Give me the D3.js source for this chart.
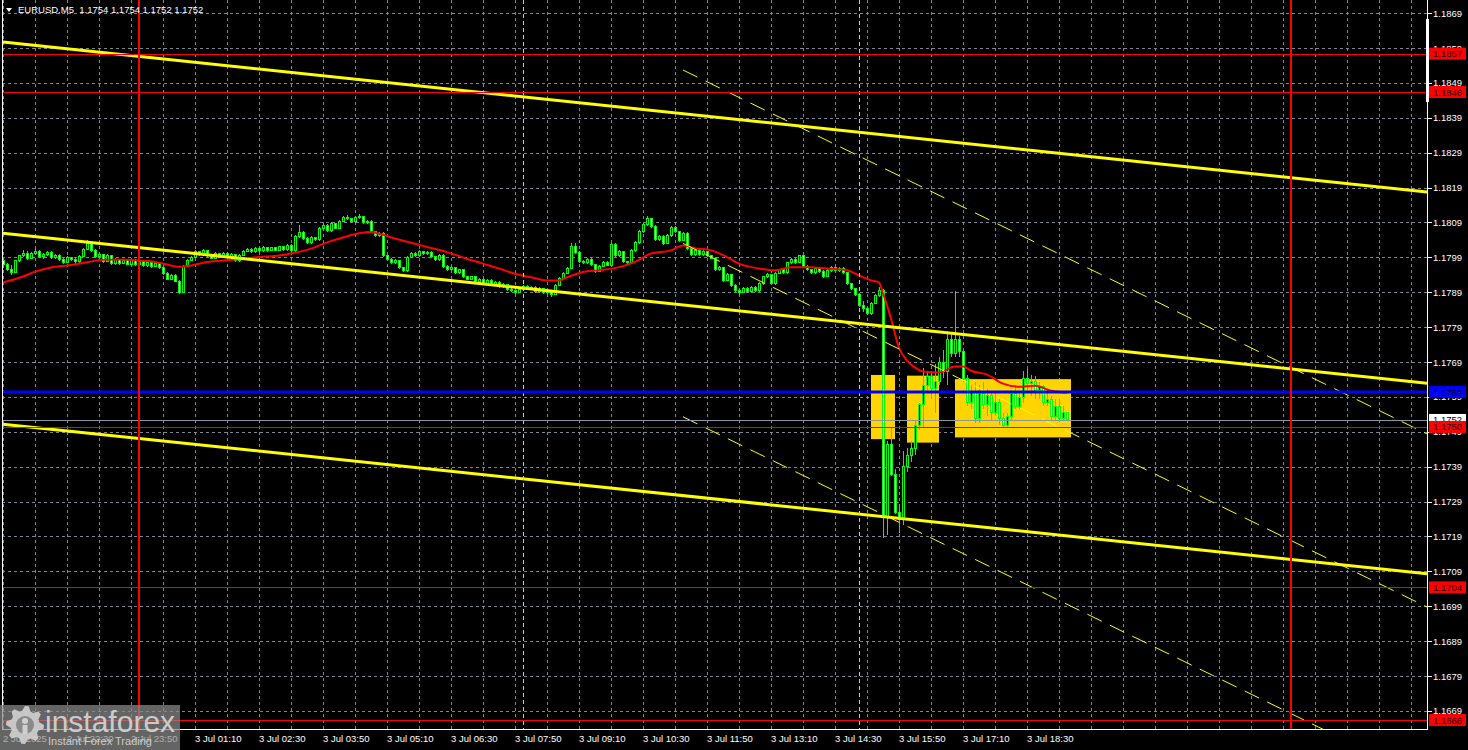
<!DOCTYPE html>
<html><head><meta charset="utf-8">
<script src="https://cdn.jsdelivr.net/npm/d3@7"></script>
<style>
html,body{margin:0;padding:0;background:#000;overflow:hidden}
svg{display:block}
text{font-family:"Liberation Sans",Arial,sans-serif}
</style>
</head><body>
<svg id="chart" width="1468" height="750"></svg>
<script>
// ---------------- DATA ----------------
const chartTitle = "EURUSD,M5  1.1754 1.1754 1.1752 1.1752";

const opens = [
1.17976,1.17965,1.1795,1.17943,1.17976,1.1799,1.17998,1.17983,1.17997,1.18003,
1.17988,1.17993,1.18,1.17986,1.17992,1.17979,1.17972,1.17985,1.1798,1.17973,
1.17989,1.1801,1.18026,1.18006,1.17988,1.17994,1.17975,1.1799,1.17968,1.17979,
1.17969,1.17976,1.17967,1.17978,1.17965,1.17975,1.17962,1.1797,1.1796,1.17968,
1.17956,1.1794,1.17923,1.17935,1.17918,1.17886,1.1796,1.17978,1.17986,1.18002,
1.17993,1.18005,1.1799,1.17984,1.17996,1.17988,1.17998,1.17986,1.17994,1.17976,
1.17992,1.18004,1.1801,1.18002,1.18012,1.18005,1.18014,1.18006,1.18013,1.18007,
1.18016,1.18008,1.1802,1.18005,1.18045,1.18058,1.1804,1.18028,1.18042,1.18036,
1.18068,1.18078,1.18062,1.18082,1.1807,1.1809,1.181,1.18096,1.18088,1.18099,
1.18103,1.18086,1.1809,1.1806,1.18048,1.18055,1.1799,1.1798,1.1797,1.17976,
1.17956,1.17948,1.17986,1.17998,1.1799,1.18002,1.17996,1.18,1.17988,1.1798,
1.17992,1.1796,1.1795,1.17956,1.17942,1.1795,1.1793,1.17924,1.1793,1.17916,
1.17924,1.1791,1.1792,1.17908,1.17914,1.17902,1.17908,1.17895,1.1789,1.17886,
1.17894,1.17903,1.17896,1.179,1.17888,1.17896,1.17884,1.1789,1.1788,1.17906,
1.17925,1.1794,1.17955,1.18018,1.18,1.17975,1.1797,1.1798,1.17965,1.17946,
1.1796,1.17972,1.17964,1.18024,1.1799,1.18002,1.17974,1.1797,1.18005,1.18028,
1.1806,1.1808,1.18096,1.18075,1.18036,1.18046,1.18026,1.18048,1.18072,1.1806,
1.18035,1.18055,1.18012,1.17993,1.18006,1.17994,1.18002,1.1799,1.17984,1.1795,
1.17956,1.1792,1.17936,1.17906,1.17892,1.17886,1.17898,1.17888,1.179,1.1789,
1.1791,1.1793,1.17936,1.1791,1.1794,1.1795,1.17942,1.1797,1.1798,1.17972,
1.1799,1.1796,1.1795,1.17942,1.17954,1.17946,1.17932,1.17948,1.17956,1.17948,
1.17954,1.17942,1.1791,1.17896,1.1788,1.17848,1.1784,1.17825,1.17855,1.17876,
1.17892,1.1724,1.17449,1.17365,1.17255,1.17235,1.17388,1.17417,1.17437,1.17505,
1.17565,1.1762,1.17645,1.1761,1.1763,1.17685,1.1766,1.1775,1.1771,1.1775,
1.17715,1.1764,1.1757,1.176,1.17525,1.17595,1.17565,1.1759,1.1754,1.1757,
1.17525,1.17505,1.1753,1.17595,1.1756,1.17585,1.1764,1.17625,1.1763,1.17605,
1.17615,1.1757,1.1758,1.1753,1.1756,1.17525,1.1754];

const highs = [
1.17982,1.1797,1.17963,1.17979,1.17994,1.18008,1.18003,1.18002,1.1801,1.18006,
1.17998,1.18005,1.18004,1.17996,1.17995,1.17983,1.17989,1.17988,1.17984,1.17993,
1.18014,1.18035,1.1803,1.1801,1.17999,1.17997,1.17995,1.17993,1.17983,1.17982,
1.1798,1.17979,1.17982,1.17981,1.17979,1.17978,1.17974,1.17973,1.17972,1.1797,
1.17959,1.17943,1.17939,1.17938,1.17922,1.17964,1.17982,1.1799,1.18006,1.18005,
1.18009,1.18008,1.17993,1.18,1.17999,1.18002,1.18001,1.17998,1.17997,1.17996,
1.18008,1.18014,1.18013,1.18016,1.18015,1.18018,1.18017,1.18017,1.18016,1.1802,
1.18019,1.18024,1.18023,1.1805,1.1808,1.18061,1.18043,1.18046,1.18045,1.18072,
1.18085,1.18081,1.18086,1.18085,1.18094,1.18106,1.18108,1.18099,1.18104,1.18109,
1.18106,1.18094,1.18093,1.18063,1.18059,1.18058,1.17993,1.17983,1.1798,1.17979,
1.17959,1.1799,1.18002,1.18001,1.18006,1.18005,1.18004,1.18003,1.17991,1.17996,
1.17995,1.17963,1.1796,1.17959,1.17954,1.17953,1.17933,1.17934,1.17933,1.17928,
1.17927,1.17924,1.17923,1.17918,1.17917,1.17912,1.17911,1.17898,1.17893,1.17898,
1.17907,1.17906,1.17904,1.17903,1.179,1.17899,1.17894,1.17893,1.1791,1.17929,
1.17944,1.17959,1.18026,1.18028,1.18003,1.17978,1.17984,1.17983,1.17968,1.17964,
1.17976,1.17975,1.18028,1.18027,1.18006,1.18005,1.17977,1.18009,1.18032,1.18064,
1.18084,1.18106,1.18099,1.18078,1.1805,1.18049,1.18052,1.18076,1.18075,1.18063,
1.18059,1.18058,1.18015,1.1801,1.18009,1.18006,1.18005,1.17993,1.17987,1.1796,
1.17959,1.1794,1.17939,1.17909,1.17895,1.17902,1.17901,1.17904,1.17903,1.17914,
1.17934,1.1794,1.17939,1.17944,1.17954,1.17953,1.17974,1.17984,1.17983,1.17994,
1.17993,1.17963,1.17953,1.17958,1.17957,1.17949,1.17952,1.1796,1.17959,1.17958,
1.17957,1.17945,1.17913,1.17899,1.17883,1.1786,1.17843,1.17859,1.1788,1.17902,
1.17895,1.1746,1.175,1.1738,1.1728,1.1743,1.1744,1.1746,1.1752,1.1757,
1.1767,1.1766,1.1766,1.1768,1.177,1.1772,1.17775,1.1777,1.1789,1.1776,
1.1772,1.1765,1.1762,1.1763,1.1762,1.1763,1.1761,1.176,1.176,1.1758,
1.1754,1.1754,1.17605,1.1762,1.176,1.1766,1.17665,1.1765,1.17645,1.1763,
1.1762,1.176,1.1759,1.1758,1.1758,1.1756,1.1754];

const lows = [
1.17955,1.17946,1.17935,1.1794,1.17972,1.17987,1.17978,1.1798,1.17994,1.17984,
1.17982,1.1799,1.1798,1.17982,1.17975,1.17968,1.17969,1.17976,1.17968,1.1797,
1.17986,1.18007,1.18002,1.17984,1.17985,1.1797,1.17972,1.17964,1.17965,1.17965,
1.17966,1.17963,1.17964,1.17961,1.17962,1.17958,1.17959,1.17956,1.17957,1.17952,
1.17936,1.1792,1.1792,1.17914,1.17882,1.17883,1.17957,1.17975,1.17983,1.17989,
1.1799,1.17986,1.1798,1.17981,1.17984,1.17985,1.17982,1.17983,1.17972,1.17973,
1.17989,1.18001,1.17998,1.17999,1.18001,1.18002,1.18002,1.18003,1.18003,1.18004,
1.18004,1.18005,1.18001,1.18002,1.18042,1.18036,1.18024,1.18025,1.18032,1.18033,
1.18065,1.18058,1.18059,1.18066,1.18067,1.18087,1.18092,1.18084,1.18085,1.18096,
1.18082,1.18083,1.18056,1.18044,1.18045,1.17986,1.17976,1.17966,1.17967,1.17952,
1.17944,1.17945,1.17983,1.17986,1.17987,1.17992,1.17993,1.17984,1.17976,1.17977,
1.17956,1.17946,1.17947,1.17938,1.17939,1.17926,1.1792,1.17921,1.17912,1.17913,
1.17906,1.17907,1.17904,1.17905,1.17898,1.17899,1.17891,1.17886,1.17882,1.17883,
1.17891,1.17892,1.17893,1.17884,1.17885,1.1788,1.17881,1.17872,1.17877,1.17903,
1.17922,1.17937,1.17952,1.17996,1.17971,1.17966,1.17967,1.17961,1.17942,1.17943,
1.17957,1.1796,1.17961,1.17986,1.17987,1.1797,1.17964,1.17967,1.18002,1.18025,
1.18057,1.18077,1.18071,1.18032,1.18033,1.18022,1.18023,1.18045,1.18056,1.18031,
1.18032,1.18008,1.17989,1.1799,1.1799,1.17991,1.17986,1.1798,1.17946,1.17947,
1.17916,1.17917,1.17902,1.17888,1.17882,1.17883,1.17884,1.17885,1.17886,1.17887,
1.17907,1.17927,1.17906,1.17907,1.17937,1.17938,1.17939,1.17967,1.17968,1.17969,
1.17956,1.17946,1.17938,1.17939,1.17942,1.17928,1.17929,1.17945,1.17944,1.17945,
1.17938,1.17906,1.17892,1.17876,1.17844,1.1783,1.1782,1.17822,1.17852,1.17873,
1.17183,1.1719,1.1736,1.1725,1.17195,1.1722,1.1737,1.174,1.1742,1.1749,
1.175,1.176,1.1758,1.1754,1.1762,1.1764,1.1762,1.177,1.177,1.177,
1.1763,1.1756,1.1755,1.1751,1.1751,1.1755,1.1753,1.1752,1.1753,1.17505,
1.17498,1.175,1.1752,1.1755,1.1755,1.1757,1.176,1.1759,1.1758,1.1758,
1.1756,1.1756,1.1752,1.1752,1.17515,1.1752,1.1752];

const closes = [
1.17965,1.1795,1.17943,1.17976,1.1799,1.17998,1.17983,1.17997,1.18003,1.17988,
1.17993,1.18,1.17986,1.17992,1.17979,1.17972,1.17985,1.1798,1.17973,1.17989,
1.1801,1.18026,1.18006,1.17988,1.17994,1.17975,1.1799,1.17968,1.17979,1.17969,
1.17976,1.17967,1.17978,1.17965,1.17975,1.17962,1.1797,1.1796,1.17968,1.17956,
1.1794,1.17923,1.17935,1.17918,1.17886,1.1796,1.17978,1.17986,1.18002,1.17993,
1.18005,1.1799,1.17984,1.17996,1.17988,1.17998,1.17986,1.17994,1.17976,1.17992,
1.18004,1.1801,1.18002,1.18012,1.18005,1.18014,1.18006,1.18013,1.18007,1.18016,
1.18008,1.1802,1.18005,1.18045,1.18058,1.1804,1.18028,1.18042,1.18036,1.18068,
1.18078,1.18062,1.18082,1.1807,1.1809,1.181,1.18096,1.18088,1.18099,1.18103,
1.18086,1.1809,1.1806,1.18048,1.18055,1.1799,1.1798,1.1797,1.17976,1.17956,
1.17948,1.17986,1.17998,1.1799,1.18002,1.17996,1.18,1.17988,1.1798,1.17992,
1.1796,1.1795,1.17956,1.17942,1.1795,1.1793,1.17924,1.1793,1.17916,1.17924,
1.1791,1.1792,1.17908,1.17914,1.17902,1.17908,1.17895,1.1789,1.17886,1.17894,
1.17903,1.17896,1.179,1.17888,1.17896,1.17884,1.1789,1.1788,1.17906,1.17925,
1.1794,1.17955,1.18018,1.18,1.17975,1.1797,1.1798,1.17965,1.17946,1.1796,
1.17972,1.17964,1.18024,1.1799,1.18002,1.17974,1.1797,1.18005,1.18028,1.1806,
1.1808,1.18096,1.18075,1.18036,1.18046,1.18026,1.18048,1.18072,1.1806,1.18035,
1.18055,1.18012,1.17993,1.18006,1.17994,1.18002,1.1799,1.17984,1.1795,1.17956,
1.1792,1.17936,1.17906,1.17892,1.17886,1.17898,1.17888,1.179,1.1789,1.1791,
1.1793,1.17936,1.1791,1.1794,1.1795,1.17942,1.1797,1.1798,1.17972,1.1799,
1.1796,1.1795,1.17942,1.17954,1.17946,1.17932,1.17948,1.17956,1.17948,1.17954,
1.17942,1.1791,1.17896,1.1788,1.17848,1.1784,1.17825,1.17855,1.17876,1.17892,
1.1724,1.17449,1.17365,1.17255,1.17235,1.17388,1.17417,1.17437,1.17505,1.17565,
1.1762,1.17645,1.1761,1.1763,1.17685,1.1766,1.1775,1.1771,1.1775,1.17715,
1.1764,1.1757,1.176,1.17525,1.17595,1.17565,1.1759,1.1754,1.1757,1.17525,
1.17505,1.1753,1.17595,1.1756,1.17585,1.1764,1.17625,1.1763,1.17605,1.17615,
1.1757,1.1758,1.1753,1.1756,1.17525,1.1754,1.1752];

// moving average read at sample bars: [bar index, price]
const maPoints = [
[0,1.17914],[5,1.17931],[8,1.17945],[12,1.17957],[17,1.17964],[21,1.17972],[25,1.17979],
[30,1.1798],[34,1.17977],[38,1.17973],[42,1.17963],[44,1.17959],[47,1.17963],[51,1.17973],
[55,1.17977],[60,1.17982],[64,1.17987],[68,1.1799],[72,1.17997],[77,1.18011],[81,1.18029],
[85,1.18043],[89,1.18055],[92,1.18059],[94,1.18054],[98,1.1804],[103,1.18025],[107,1.18013],
[111,1.18001],[116,1.17982],[120,1.17968],[124,1.17954],[128,1.17939],[132,1.17929],
[136,1.1792],[139,1.1792],[141,1.17929],[145,1.17944],[149,1.17949],[154,1.17958],
[158,1.17973],[162,1.17997],[167,1.18006],[170,1.1802],[173,1.18012],[177,1.18006],
[181,1.17987],[184,1.17968],[189,1.17954],[193,1.17949],[197,1.17958],[202,1.17958],
[206,1.17954],[211,1.17949],[214,1.17934],[217,1.1792],[219,1.17914],[220,1.17883],
[222,1.17811],[224,1.17727],[226,1.1769],[228,1.1767],[230,1.17659],[234,1.17656],
[238,1.17673],[240,1.17673],[242,1.17661],[246,1.1765],[250,1.17624],[254,1.17615],
[258,1.17618],[262,1.17604],[266,1.17598]];

const priceTickValues = [1.18686,1.18586,1.18486,1.18386,1.18286,1.18186,1.18086,1.17986,1.17886,1.17786,
  1.17686,1.17586,1.17486,1.17386,1.17286,1.17186,1.17086,1.16986,1.16886,1.16786,1.16686];
const priceTickLabels = ["1.1869","1.1859","1.1849","1.1839","1.1829","1.1819","1.1809","1.1799","1.1789","1.1779",
  "1.1769","1.1759","1.1749","1.1739","1.1729","1.1719","1.1709","1.1699","1.1689","1.1679","1.1669"];
const timeLabels = ["2 Jul 2025","2 Jul 22:30","2 Jul 23:50","3 Jul 01:10","3 Jul 02:30","3 Jul 03:50",
  "3 Jul 05:10","3 Jul 06:30","3 Jul 07:50","3 Jul 09:10","3 Jul 10:30","3 Jul 11:50","3 Jul 13:10",
  "3 Jul 14:30","3 Jul 15:50","3 Jul 17:10","3 Jul 18:30"];

const redLevels = [1.1857, 1.1846, 1.1750, 1.1704, 1.1666];
const blueLevel = 1.1760;
const bidPrice = 1.1752;
// thick channel lines: [bar0, price0, bar1, price1]
const channelLines = [[0,1.18603,356,1.18173],[0,1.18055,356,1.17625],[0,1.17508,356,1.17079]];
// thin dashed channel lines
const dashedLines = [[170,1.18523,356,1.1748],[170,1.18026,356,1.16984],[170,1.17529,356,1.16488]];
// rectangles: [bar0, bar1, top price, bottom price]
const boxes = [[217,223,1.17649,1.17465],[226,234,1.17647,1.17455],[238,267,1.17637,1.1747]];
const daySeparators = [34, 322];
const eventMarkers = [130, 214];

// ---------------- CHART ----------------
const W = 1468, H = 750;
const plotL = 2, plotR = 1427, plotT = 0, plotB = 729;
const svg = d3.select("#chart");
svg.append("rect").attr("width", W).attr("height", H).attr("fill", "#000");

const x = d3.scaleLinear().domain([0, 356]).range([3, 1427]);
const y = d3.scaleLinear().domain([1.1666, 1.1846]).range([720, 92]);

svg.append("clipPath").attr("id", "plotclip").append("rect")
  .attr("x", plotL).attr("y", plotT).attr("width", plotR - plotL).attr("height", plotB - plotT);
const plot = svg.append("g").attr("clip-path", "url(#plotclip)");

const gridColor = "#7d8793";
// vertical grid every 8 bars
plot.append("g").selectAll("line").data(d3.range(0, 356, 8)).join("line")
  .attr("x1", d => x(d) + 0.5).attr("x2", d => x(d) + 0.5)
  .attr("y1", plotT).attr("y2", plotB)
  .attr("stroke", gridColor).attr("stroke-width", 1).attr("stroke-dasharray", "3,3");
// horizontal grid
plot.append("g").selectAll("line").data(priceTickValues).join("line")
  .attr("x1", plotL).attr("x2", plotR)
  .attr("y1", d => Math.round(y(d)) + 0.5).attr("y2", d => Math.round(y(d)) + 0.5)
  .attr("stroke", gridColor).attr("stroke-width", 1).attr("stroke-dasharray", "3,3");

// boxes (background objects)
plot.append("g").selectAll("rect").data(boxes).join("rect")
  .attr("x", d => x(d[0])).attr("width", d => x(d[1]) - x(d[0]))
  .attr("y", d => y(d[2])).attr("height", d => y(d[3]) - y(d[2]))
  .attr("fill", "#ffd400");

// candles
const bars = d3.range(closes.length).map(i => ({i, o: opens[i], h: highs[i], l: lows[i], c: closes[i]}));
const cg = plot.append("g").attr("shape-rendering", "crispEdges");
cg.selectAll("line").data(bars).join("line")
  .attr("x1", d => x(d.i) + 0.5).attr("x2", d => x(d.i) + 0.5)
  .attr("y1", d => y(d.h)).attr("y2", d => y(d.l))
  .attr("stroke", "#00ff00").attr("stroke-width", 1);
cg.selectAll("rect").data(bars).join("rect")
  .attr("x", d => x(d.i) - 0.5).attr("width", 2)
  .attr("y", d => y(Math.max(d.o, d.c)))
  .attr("height", d => Math.max(0.1, Math.abs(y(d.o) - y(d.c))))
  .attr("fill", d => d.c < d.o ? "#ffffff" : "#000000")
  .attr("stroke", "#00ff00").attr("stroke-width", 1);

// moving average
plot.append("path").datum(maPoints)
  .attr("d", d3.line().x(d => x(d[0])).y(d => y(d[1])).curve(d3.curveMonotoneX))
  .attr("fill", "none").attr("stroke", "#ff0000").attr("stroke-width", 2);

// thick channel lines
plot.append("g").selectAll("line").data(channelLines).join("line")
  .attr("x1", d => x(d[0])).attr("y1", d => y(d[1]))
  .attr("x2", d => x(d[2])).attr("y2", d => y(d[3]))
  .attr("stroke", "#ffff00").attr("stroke-width", 3);
// thin dashed lines
plot.append("g").selectAll("line").data(dashedLines).join("line")
  .attr("x1", d => x(d[0])).attr("y1", d => y(d[1]))
  .attr("x2", d => x(d[2])).attr("y2", d => y(d[3]))
  .attr("stroke", "#ffff00").attr("stroke-width", 1).attr("stroke-dasharray", "16,9");

// event markers (lime dashed verticals)
plot.append("g").selectAll("line").data(eventMarkers).join("line")
  .attr("x1", d => x(d) + 0.5).attr("x2", d => x(d) + 0.5)
  .attr("y1", plotT).attr("y2", plotB)
  .attr("stroke", "#a8ff00").attr("stroke-width", 1).attr("stroke-dasharray", "4,3");

// horizontal levels
plot.append("line").attr("x1", plotL).attr("x2", plotR)
  .attr("y1", Math.round(y(bidPrice)) + 0.5).attr("y2", Math.round(y(bidPrice)) + 0.5)
  .attr("stroke", "#8a96a6").attr("stroke-width", 1);
plot.append("g").selectAll("line").data(redLevels).join("line")
  .attr("x1", plotL).attr("x2", plotR)
  .attr("y1", d => Math.round(y(d)) + 0.5).attr("y2", d => Math.round(y(d)) + 0.5)
  .attr("stroke", "#ff0000").attr("stroke-width", 1);
plot.append("line").attr("x1", plotL).attr("x2", plotR)
  .attr("y1", y(blueLevel)).attr("y2", y(blueLevel))
  .attr("stroke", "#0000ff").attr("stroke-width", 3);

// day separators
plot.append("g").selectAll("line").data(daySeparators).join("line")
  .attr("x1", d => x(d)).attr("x2", d => x(d))
  .attr("y1", plotT).attr("y2", plotB)
  .attr("stroke", "#ff0000").attr("stroke-width", 2);

// frame
svg.append("line").attr("x1", 2.5).attr("x2", 2.5).attr("y1", 0).attr("y2", plotB + 0.5).attr("stroke", "#fff");
svg.append("line").attr("x1", plotR + 0.5).attr("x2", plotR + 0.5).attr("y1", 0).attr("y2", plotB + 0.5).attr("stroke", "#fff");
svg.append("line").attr("x1", 2).attr("x2", plotR + 1).attr("y1", plotB + 0.5).attr("y2", plotB + 0.5).attr("stroke", "#fff");
svg.append("rect").attr("x", plotR - 1).attr("y", 19).attr("width", 3).attr("height", 83).attr("fill", "#fff");

// price axis
const pa = svg.append("g");
pa.selectAll("line").data(priceTickValues).join("line")
  .attr("x1", plotR + 1).attr("x2", plotR + 5)
  .attr("y1", d => Math.round(y(d)) + 0.5).attr("y2", d => Math.round(y(d)) + 0.5)
  .attr("stroke", "#fff");
pa.selectAll("text").data(priceTickValues).join("text")
  .attr("x", 1433).attr("y", d => y(d) + 3.5)
  .attr("fill", "#fff").attr("font-size", "9.5px")
  .text((d, i) => priceTickLabels[i]);

function priceTag(v, bg, fg) {
  const yy = y(v);
  svg.append("rect").attr("x", 1429).attr("y", yy - 6).attr("width", 37).attr("height", 12).attr("fill", bg);
  svg.append("text").attr("x", 1433).attr("y", yy + 3.5).attr("fill", fg)
    .attr("font-size", "9.5px").text(v.toFixed(4));
}
priceTag(bidPrice, "#ffffff", "#000000");
redLevels.forEach(v => priceTag(v, "#ff0000", "#1a0000"));
priceTag(blueLevel, "#0000ff", "#000022");

// time axis
svg.append("g").selectAll("text").data(timeLabels).join("text")
  .attr("x", (d, i) => x(i * 16)).attr("y", 742)
  .attr("fill", "#fff").attr("font-size", "9.5px")
  .text(d => d);

// title
svg.append("path").attr("d", "M6,8 L12,8 L9,12 Z").attr("fill", "#fff");
svg.append("text").attr("x", 18).attr("y", 13).attr("fill", "#fff")
  .attr("font-size", "9.5px").attr("xml:space", "preserve").style("white-space", "pre").text(chartTitle);

// watermark logo
const logo = svg.append("g");
logo.append("rect").attr("x", 0).attr("y", 705).attr("width", 180).attr("height", 45)
  .attr("fill", "#8a8a8a").attr("opacity", 0.72);
// gear icon
const gcx = 25, gcy = 725, teeth = 8;
const gearPts = [];
for (let k = 0; k < teeth * 4; k++) {
  const a = (k / (teeth * 4)) * 2 * Math.PI;
  const r = (k % 4 < 2) ? 19 : 14.5;
  gearPts.push([gcx + r * Math.cos(a), gcy + r * Math.sin(a)]);
}
logo.append("path").attr("d", d3.line()(gearPts) + "Z").attr("fill", "#d0d0d0").attr("opacity", 0.9);
logo.append("circle").attr("cx", gcx).attr("cy", gcy).attr("r", 9).attr("fill", "#8a8a8a");
logo.append("circle").attr("cx", gcx).attr("cy", gcy - 4).attr("r", 3).attr("fill", "#d0d0d0");
logo.append("rect").attr("x", gcx - 2.5).attr("y", gcy).attr("width", 5).attr("height", 9).attr("fill", "#d0d0d0");
logo.append("text").attr("x", 45).attr("y", 732).attr("fill", "#d4d4d4").attr("opacity", 0.92)
  .attr("font-size", "30px").attr("font-family", "'Open Sans','Liberation Sans',sans-serif")
  .text("instaforex");
logo.append("text").attr("x", 48).attr("y", 745).attr("fill", "#d4d4d4").attr("opacity", 0.92)
  .attr("font-size", "11px").text("Instant Forex Trading");
</script>
</body></html>
